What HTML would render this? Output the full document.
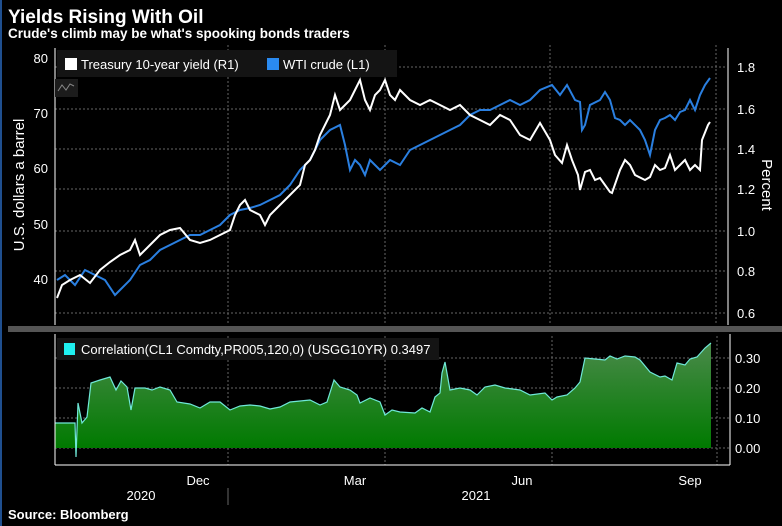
<!DOCTYPE html>
<html><head><meta charset="utf-8"><style>
body{margin:0;background:#000;width:782px;height:526px;overflow:hidden;font-family:"Liberation Sans",sans-serif;}
</style></head><body>
<svg width="782" height="526" xmlns="http://www.w3.org/2000/svg" font-family="Liberation Sans, sans-serif" style="display:block">
<rect width="782" height="526" fill="#000"/>
<rect x="0" y="0" width="2" height="526" fill="#1f4f8f"/>
<text x="8" y="23" fill="#fff" font-size="19" font-weight="bold">Yields Rising With Oil</text>
<text x="8" y="38" fill="#fff" font-size="13.5" font-weight="bold">Crude's climb may be what's spooking bonds traders</text>
<text x="8" y="519" fill="#fff" font-size="13" font-weight="bold">Source:  Bloomberg</text>
<defs><linearGradient id="g" x1="0" y1="0" x2="0" y2="1"><stop offset="0" stop-color="#4a8a4a"/><stop offset="1" stop-color="#007a00"/></linearGradient></defs>
<g stroke="#666" stroke-dasharray="2,2" stroke-width="1">
<line x1="55" x2="727" y1="67" y2="67"/><line x1="55" x2="727" y1="109" y2="109"/><line x1="55" x2="727" y1="149" y2="149"/><line x1="55" x2="727" y1="189" y2="189"/><line x1="55" x2="727" y1="231" y2="231"/><line x1="55" x2="727" y1="271" y2="271"/><line x1="55" x2="727" y1="313" y2="313"/>
<line x1="228" x2="228" y1="45" y2="325"/><line x1="385" x2="385" y1="45" y2="325"/><line x1="550" x2="550" y1="45" y2="325"/><line x1="716" x2="716" y1="45" y2="325"/>
<line x1="55" x2="730" y1="358" y2="358"/><line x1="55" x2="730" y1="388" y2="388"/><line x1="55" x2="730" y1="418" y2="418"/><line x1="55" x2="730" y1="448" y2="448"/>
<line x1="228" x2="228" y1="336" y2="465"/><line x1="385" x2="385" y1="336" y2="465"/><line x1="552" x2="552" y1="336" y2="465"/><line x1="717" x2="717" y1="336" y2="465"/>
</g>
<line x1="55" y1="48" x2="55" y2="325" stroke="#fff"/>
<line x1="728" y1="48" x2="728" y2="325" stroke="#fff"/>
<g fill="#fff" font-size="13">
<text x="48" y="63" text-anchor="end">80</text><text x="48" y="118" text-anchor="end">70</text><text x="48" y="173" text-anchor="end">60</text><text x="48" y="229" text-anchor="end">50</text><text x="48" y="284" text-anchor="end">40</text>
<text x="737" y="72">1.8</text><text x="737" y="114">1.6</text><text x="737" y="154">1.4</text><text x="737" y="194">1.2</text><text x="737" y="236">1.0</text><text x="737" y="276">0.8</text><text x="737" y="318">0.6</text>
</g>
<text transform="translate(24,185) rotate(-90)" fill="#fff" font-size="15" text-anchor="middle">U.S. dollars a barrel</text>
<text transform="translate(762,185) rotate(90)" fill="#fff" font-size="15" text-anchor="middle">Percent</text>
<rect x="57" y="50" width="340" height="27" fill="#141414"/>
<rect x="65" y="58" width="12" height="12" fill="#fff"/><text x="81" y="69" fill="#fff" font-size="13">Treasury 10-year yield (R1)</text>
<rect x="267" y="58" width="12" height="12" fill="#2a8af0"/><text x="283" y="69" fill="#fff" font-size="13">WTI crude (L1)</text>
<rect x="55" y="79" width="23" height="18" fill="#1c1c1c"/><polyline points="58,91 62,85 66,90 70,84 74,86" fill="none" stroke="#888"/>
<polyline fill="none" stroke="#2a7fe0" stroke-width="2" points="57,280 65,275 75,285 85,270 95,275 105,280 115,295 120,290 130,280 140,265 150,260 160,250 170,245 180,240 190,235 200,235 210,230 220,225 230,215 240,210 250,208 260,205 270,200 280,195 290,185 300,170 310,160 320,140 330,130 340,125 345,145 350,170 355,160 360,165 365,175 370,160 375,165 380,170 385,165 390,160 400,165 410,150 420,145 430,140 440,135 450,130 460,125 470,115 480,110 490,110 500,105 510,100 520,105 530,100 540,90 552,85 560,95 567,85 575,100 580,102 582,130 585,125 590,105 600,100 605,92 610,100 615,118 620,120 625,125 630,120 640,130 645,140 650,155 655,130 660,120 665,118 670,115 675,120 680,112 685,110 690,100 695,110 700,95 705,85 710,78"/>
<polyline fill="none" stroke="#fff" stroke-width="2" points="57,298 62,285 70,280 80,275 90,283 100,270 110,262 120,255 130,250 135,240 140,255 150,245 160,235 170,230 180,228 190,240 200,243 210,240 220,235 230,230 235,215 240,205 245,200 250,210 260,215 265,225 270,215 280,205 290,195 300,185 305,165 310,160 315,150 320,135 325,125 330,115 335,95 340,110 345,105 350,100 355,90 360,80 365,100 370,110 375,95 380,90 385,80 390,95 395,100 400,90 410,100 420,105 430,100 440,105 450,110 460,105 470,115 480,120 490,125 500,115 510,120 520,135 530,140 540,123 550,140 555,155 562,163 567,145 572,160 578,175 580,190 585,172 590,170 595,180 600,178 605,185 610,192 612,193 620,170 625,160 630,165 635,175 645,180 650,177 655,165 660,170 665,168 670,155 675,170 680,165 685,160 690,170 695,165 700,170 702,140 708,125 710,122"/>
<rect x="8" y="326" width="774" height="6" fill="#555"/>
<polygon fill="url(#g)" points="55,448 55,423 75,423 76,448 78,403 82,423 87,417 91,383 100,380 110,377 116,390 121,381 127,387 131,410 135,388 145,388 152,390 160,387 170,390 177,402 190,404 200,408 210,402 220,402 230,410 240,406 250,405 260,406 270,409 280,407 290,402 310,400 320,405 327,402 334,380 340,387 350,390 357,395 360,403 370,398 380,402 385,415 392,410 400,412 415,413 422,408 430,412 435,397 440,393 442,373 445,362 450,390 460,388 470,390 477,395 485,387 495,385 505,388 520,390 530,395 545,393 552,400 557,397 567,395 575,388 580,382 585,358 595,359 605,360 610,356 617,359 625,356 635,357 640,360 650,372 660,377 665,376 672,380 677,363 685,365 690,359 697,357 705,348 711,343 711,448"/>
<polyline fill="none" stroke="#6fe8d8" stroke-width="1.2" points="55,423 75,423 76,457 78,403 82,423 87,417 91,383 100,380 110,377 116,390 121,381 127,387 131,410 135,388 145,388 152,390 160,387 170,390 177,402 190,404 200,408 210,402 220,402 230,410 240,406 250,405 260,406 270,409 280,407 290,402 310,400 320,405 327,402 334,380 340,387 350,390 357,395 360,403 370,398 380,402 385,415 392,410 400,412 415,413 422,408 430,412 435,397 440,393 442,373 445,362 450,390 460,388 470,390 477,395 485,387 495,385 505,388 520,390 530,395 545,393 552,400 557,397 567,395 575,388 580,382 585,358 595,359 605,360 610,356 617,359 625,356 635,357 640,360 650,372 660,377 665,376 672,380 677,363 685,365 690,359 697,357 705,348 711,343"/>
<rect x="57" y="338" width="382" height="22" fill="#141414"/>
<rect x="64" y="343" width="11" height="12" fill="#1ff0f0"/>
<text x="81" y="354" fill="#fff" font-size="13">Correlation(CL1 Comdty,PR005,120,0) (USGG10YR) 0.3497</text>
<line x1="55" y1="334" x2="55" y2="465" stroke="#fff"/>
<line x1="730" y1="334" x2="730" y2="465" stroke="#fff"/>
<line x1="55" y1="465" x2="730" y2="465" stroke="#fff"/>
<g fill="#fff" font-size="13">
<text x="735" y="363">0.30</text><text x="735" y="393">0.20</text><text x="735" y="423">0.10</text><text x="735" y="453">0.00</text>
<text x="198" y="485" text-anchor="middle">Dec</text><text x="355" y="485" text-anchor="middle">Mar</text><text x="522" y="485" text-anchor="middle">Jun</text><text x="690" y="485" text-anchor="middle">Sep</text>
<text x="141" y="500" text-anchor="middle">2020</text><text x="476" y="500" text-anchor="middle">2021</text>
</g>
<line x1="228" y1="488" x2="228" y2="505" stroke="#666"/>
</svg>
</body></html>
